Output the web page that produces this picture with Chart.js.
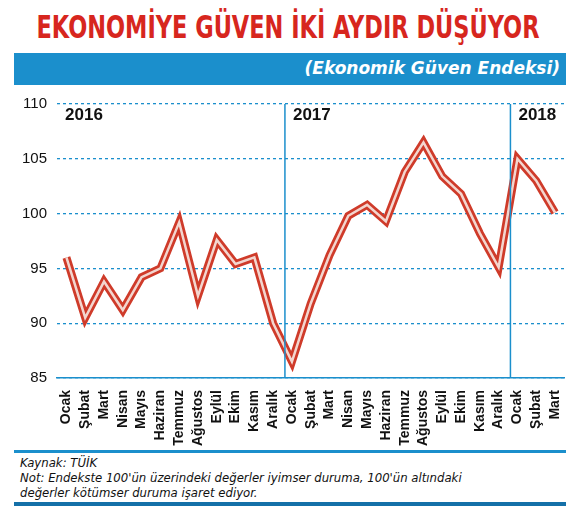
<!DOCTYPE html>
<html><head><meta charset="utf-8">
<script src="https://cdn.jsdelivr.net/npm/chart.js@4"></script>
<style>
body{margin:0;width:576px;height:507px;background:#fff;position:relative;overflow:hidden;font-family:"Liberation Sans Narrow","DejaVu Sans Condensed",sans-serif}
#title{position:absolute;top:8px;left:-60px;width:696px;text-align:center;white-space:nowrap;color:#d7261e;font:bold 32px "DejaVu Sans Condensed",sans-serif;transform:scaleX(0.78)}
#band{position:absolute;top:53px;left:14px;width:552px;height:32px;background:#1b8fcc;color:#fff;font:italic bold 17px "DejaVu Sans",sans-serif;text-align:right;line-height:30px;box-sizing:border-box;padding-right:6px}
#wrap{position:absolute;top:85px;left:0;width:576px;height:365px}
#rule1{position:absolute;top:450px;left:14px;width:552px;height:3px;background:#1b8fcc}
#foot{position:absolute;top:455px;left:20px;font:italic 13px "DejaVu Sans Condensed",sans-serif;line-height:15px;color:#111}
#rule2{position:absolute;top:502px;left:14px;width:552px;height:4px;background:#1470a8}
</style></head><body>
<div id="title">EKONOMİYE GÜVEN İKİ AYDIR DÜŞÜYOR</div>
<div id="band">(Ekonomik Güven Endeksi)</div>
<div id="wrap"><canvas id="c" width="576" height="365"></canvas></div>
<div id="rule1"></div>
<div id="foot">Kaynak: TÜİK<br>Not: Endekste 100'ün üzerindeki değerler iyimser duruma, 100'ün altındaki<br>değerler kötümser duruma işaret ediyor.</div>
<div id="rule2"></div>
<script>
const months = ['Ocak','Şubat','Mart','Nisan','Mayıs','Haziran','Temmuz','Ağustos','Eylül','Ekim','Kasım','Aralık',
  'Ocak','Şubat','Mart','Nisan','Mayıs','Haziran','Temmuz','Ağustos','Eylül','Ekim','Kasım','Aralık',
  'Ocak','Şubat','Mart'];
const values = [96, 90.5, 93.8, 91.2, 94.2, 95, 99.2, 92.5, 97.6, 95.4, 96, 90,
  86.5, 91.8, 96.2, 99.8, 100.8, 99.3, 103.8, 106.5, 103.4, 101.8, 98.2, 95.1,
  105, 103, 100.1];
const years = ['2016', '2017', '2018'];
const yearStart = [0, 12, 24];
const yTicks = [85, 90, 95, 100, 105, 110];

const yearPlugin = {
  id: 'years',
  afterDatasetsDraw(chart) {
    const { ctx, chartArea, scales } = chart;
    ctx.save();
    ctx.font = 'bold 17px "Liberation Sans Narrow", sans-serif';
    ctx.fillStyle = '#111';
    ctx.textBaseline = 'top';
    yearStart.forEach((idx, i) => {
      let x = idx === 0 ? chartArea.left : scales.x.getPixelForValue(idx) - 7;
      if (idx > 0) {
        ctx.strokeStyle = '#1b8fcc';
        ctx.lineWidth = 1.5;
        ctx.beginPath();
        ctx.moveTo(x, chartArea.top);
        ctx.lineTo(x, chartArea.bottom);
        ctx.stroke();
      }
      ctx.fillText(years[i], x + 8, chartArea.top + 3);
    });
    ctx.restore();
  }
};

new Chart(document.getElementById('c'), {
  type: 'line',
  data: {
    labels: months,
    datasets: [
      { data: values, borderColor: '#f3d6cf', borderWidth: 2.5, pointRadius: 0, tension: 0, order: 0 },
      { data: values, borderColor: '#cf3b2a', borderWidth: 8, pointRadius: 0, tension: 0, order: 1 }
    ]
  },
  options: {
    responsive: false,
    animation: false,
    layout: { padding: { left: 12, right: 10, top: 10 } },
    plugins: { legend: { display: false }, tooltip: { enabled: false } },
    scales: {
      y: {
        min: 85, max: 110,
        afterBuildTicks: ax => { ax.ticks = yTicks.map(v => ({ value: v })); },
        grid: { color: '#1b8fcc', lineWidth: 1.3, drawTicks: false },
        border: { display: false, dash: [3, 3] },
        ticks: { autoSkip: false, color: '#111', font: { size: 15, family: '"Liberation Sans Narrow", sans-serif' }, padding: 10 }
      },
      x: {
        offset: true,
        grid: { display: false },
        border: { color: '#1b8fcc', width: 1.5 },
        ticks: { color: '#111', autoSkip: false, maxRotation: 90, minRotation: 90, font: { size: 14, weight: 'bold', family: '"Liberation Sans Narrow", sans-serif' }, padding: 4 }
      }
    }
  },
  plugins: [yearPlugin]
});
</script>
</body></html>
